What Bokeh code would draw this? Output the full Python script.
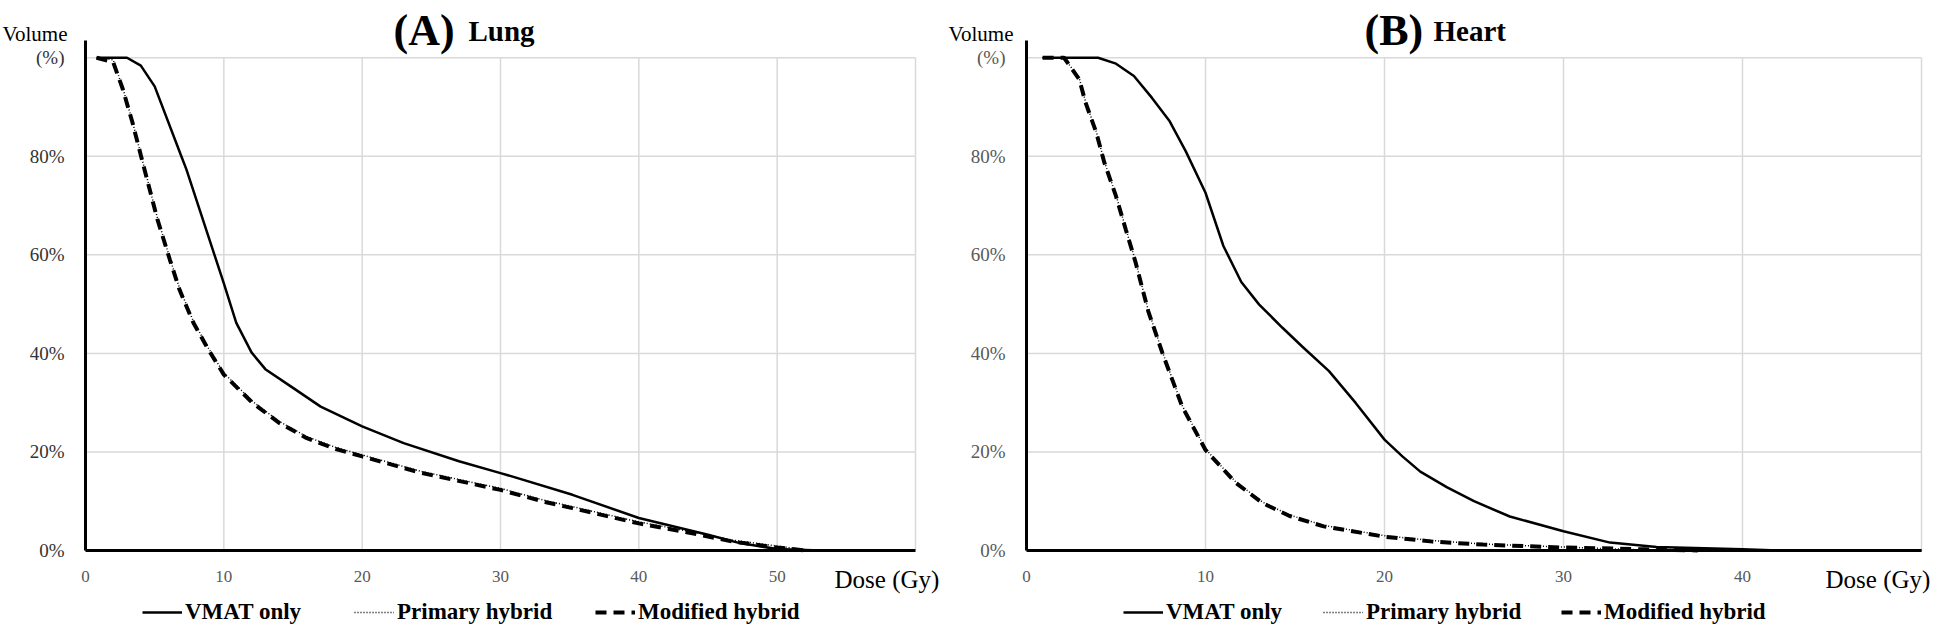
from bokeh.plotting import figure
from bokeh.models import Range1d, FixedTicker, Label, Legend, LegendItem
from bokeh.layouts import row
from bokeh.embed import file_html
from bokeh.resources import INLINE

# ---------------- data ----------------
# (A) Lung
lung_vmat_dose = [0.8, 3.0, 4.0, 5.0, 6.9, 7.3, 10.0, 10.9, 12.0, 13.0, 15.0, 17.0, 20.0, 23.0, 27.0, 30.0, 31.0, 35.2, 40.0, 45.0, 47.3, 50.0, 53.1]
lung_vmat_vol = [100, 100, 98.4, 94.2, 80.2, 77.3, 54.2, 46.2, 40.2, 36.8, 33.0, 29.2, 25.2, 21.8, 18.1, 15.7, 14.9, 11.3, 6.6, 3.2, 1.5, 0.3, 0]

lung_prim_dose = [0.8, 2.0, 2.7, 3.4, 4.0, 5.2, 6.1, 6.8, 7.8, 8.9, 10.0, 12.1, 14.0, 16.0, 18.1, 20.0, 24.2, 30.0, 33.3, 35.2, 40.0, 44.4, 46.8, 50.0, 52.5]
lung_prim_vol = [100, 99.6, 93.8, 87.0, 80.4, 67.5, 59.3, 53.2, 46.5, 41.0, 36.0, 30.2, 26.2, 23.1, 20.9, 19.4, 16.1, 12.6, 10.1, 8.9, 5.8, 3.5, 2.1, 0.9, 0]

lung_mod_dose = [0.8, 2.0, 2.7, 3.4, 4.0, 5.2, 6.1, 6.8, 7.8, 8.9, 10.0, 12.1, 14.0, 16.0, 18.1, 20.0, 24.2, 30.0, 33.3, 35.2, 40.0, 44.4, 46.8, 50.0, 52.1]
lung_mod_vol = [100, 99.1, 93.6, 86.8, 80.2, 67.2, 59.0, 52.9, 46.2, 40.7, 35.7, 29.9, 25.9, 22.8, 20.6, 19.1, 15.8, 12.3, 9.8, 8.6, 5.5, 3.2, 1.8, 0.6, 0]

# (B) Heart
heart_vmat_dose = [0.9, 4.0, 5.0, 6.0, 7.0, 8.0, 8.9, 10.0, 11.0, 12.0, 13.0, 14.3, 15.4, 16.9, 18.4, 20.0, 21.0, 22.0, 23.5, 25.0, 27.0, 30.0, 32.6, 35.2, 40.0, 42.0, 50.0]
heart_vmat_vol = [100, 100, 98.8, 96.3, 91.9, 87.1, 81.0, 72.6, 61.8, 54.5, 49.9, 45.2, 41.4, 36.4, 29.9, 22.5, 19.1, 16.0, 12.8, 10.0, 6.9, 3.9, 1.6, 0.7, 0.25, 0, 0]

heart_prim_dose = [0.9, 2.1, 2.95, 3.3, 3.9, 4.35, 5.0, 5.55, 6.1, 6.8, 7.6, 8.7, 10.0, 11.7, 13.2, 14.7, 16.6, 20.0, 22.7, 25.5, 30.0, 33.0, 35.5]
heart_prim_vol = [100, 100, 95.8, 91.1, 85.0, 78.9, 72.1, 65.3, 58.6, 48.8, 40.2, 29.4, 20.6, 13.9, 9.8, 7.2, 5.1, 3.0, 2.0, 1.3, 0.7, 0.3, 0]

heart_mod_dose = [0.9, 2.1, 2.95, 3.3, 3.9, 4.35, 5.0, 5.55, 6.1, 6.8, 7.6, 8.7, 10.0, 11.7, 13.2, 14.7, 16.6, 20.0, 22.7, 25.5, 30.0, 34.5, 37.5]
heart_mod_vol = [100, 100, 95.6, 90.9, 84.8, 78.7, 71.9, 65.1, 58.4, 48.6, 40.0, 29.2, 20.4, 13.7, 9.6, 7.0, 4.9, 2.8, 1.8, 1.2, 0.6, 0.25, 0]

y_ticks = [0, 20, 40, 60, 80, 100]
y_tick_labels = ["0%", "20%", "40%", "60%", "80%", "(%)"]
lung_x_ticks = [0, 10, 20, 30, 40, 50]
heart_x_ticks = [0, 10, 20, 30, 40]
lung_x_max = 60
heart_x_max = 50
series_names = ["VMAT only", "Primary hybrid", "Modified hybrid"]

SERIF = "Liberation Serif"
GRID = "#d9d9d9"
FIG_H = 626
AX_TOP = 103.5          # top of the y axis line (data)
PLOT_TOP_PX = 40        # px from canvas top to AX_TOP
PLOT_H_PX = 510         # px between AX_TOP and 0


def panel(width, left, frame_w, xmax, xticks, vmat, prim, mod,
          letter, organ, title_x, organ_x, vol_x, dose_x, leg_x, ylab_color):
    sx = frame_w / xmax
    sy = PLOT_H_PX / AX_TOP
    x0 = -left / sx
    x1 = (width - left) / sx
    y1 = AX_TOP + PLOT_TOP_PX / sy
    y0 = AX_TOP - (FIG_H - PLOT_TOP_PX) / sy

    p = figure(width=width, height=FIG_H, output_backend="svg", toolbar_location=None,
               x_range=Range1d(x0, x1), y_range=Range1d(y0, y1),
               min_border=0, min_border_left=0, min_border_right=0,
               min_border_top=0, min_border_bottom=0,
               background_fill_color="white", border_fill_color="white")
    p.outline_line_color = None
    p.xgrid.visible = False
    p.ygrid.visible = False

    # grid lines (bounded to the data area)
    gx = [t for t in range(10, xmax + 1, 10)]
    p.segment(x0=gx, x1=gx, y0=[0] * len(gx), y1=[100] * len(gx),
              line_color=GRID, line_width=1.5)
    gy = y_ticks[1:]
    p.segment(x0=[0] * len(gy), x1=[xmax] * len(gy), y0=gy, y1=gy,
              line_color=GRID, line_width=1.5)

    # axes crossing at the origin
    p.xaxis.fixed_location = 0
    p.yaxis.fixed_location = 0
    p.xaxis.bounds = (0, xmax)
    p.yaxis.bounds = (0, AX_TOP)
    p.yaxis.ticker = FixedTicker(ticks=y_ticks)
    p.yaxis.major_label_overrides = {t: s for t, s in zip(y_ticks, y_tick_labels)}
    p.xaxis.ticker = FixedTicker(ticks=xticks)
    for ax in (p.xaxis, p.yaxis):
        ax.axis_line_width = 3
        ax.axis_line_color = "black"
        ax.major_tick_line_color = None
        ax.minor_tick_line_color = None
        ax.major_label_text_font = SERIF
    p.yaxis.major_label_text_font_size = "19px"
    p.yaxis.major_label_text_color = ylab_color
    p.yaxis.major_label_standoff = 15
    p.xaxis.major_label_text_font_size = "17px"
    p.xaxis.major_label_text_color = "#595959"
    p.xaxis.major_label_standoff = 14

    r_mod = p.line(mod[0], mod[1], line_color="black", line_width=4, line_dash="11 7")
    r_prim = p.line(prim[0], prim[1], line_color="black", line_width=1.5, line_dash="1 2")
    r_vmat = p.line(vmat[0], vmat[1], line_color="black", line_width=2.5)

    for name, r, lx in zip(series_names, [r_vmat, r_prim, r_mod], leg_x):
        leg = Legend(items=[LegendItem(label=name, renderers=[r])], location=(lx, 1),
                     orientation="horizontal", padding=0, margin=0, spacing=0,
                     border_line_color=None, background_fill_alpha=0,
                     glyph_width=40, glyph_height=20, label_standoff=3,
                     label_text_font=SERIF, label_text_font_style="bold",
                     label_text_font_size="23px", label_text_color="black")
        p.add_layout(leg)

    # figure pixel offsets -> data (y measured from the top of the page)
    def dx(px_off):
        return x0 + px_off / sx

    def dy(py):
        return y1 - (py - 8) / sy

    p.add_layout(Label(x=dx(title_x), y=dy(38), text=letter, text_font=SERIF,
                       text_font_style="bold", text_font_size="44px", text_color="black",
                       text_baseline="alphabetic", text_align="left"))
    p.add_layout(Label(x=dx(organ_x), y=dy(38), text=organ, text_font=SERIF,
                       text_font_style="bold", text_font_size="29px", text_color="black",
                       text_baseline="alphabetic", text_align="left"))
    p.add_layout(Label(x=dx(vol_x), y=dy(41), text="Volume", text_font=SERIF,
                       text_font_size="21px", text_color="black",
                       text_baseline="middle", text_align="right"))
    p.add_layout(Label(x=dx(dose_x), y=dy(587), text="Dose (Gy)", text_font=SERIF,
                       text_font_size="25px", text_color="black",
                       text_baseline="middle", text_align="left"))
    return p


# A occupies page x 8..951, B page x 951..1938 (offsets below are within each figure)
pA = panel(943, 85, 830, lung_x_max, lung_x_ticks,
           (lung_vmat_dose, lung_vmat_vol), (lung_prim_dose, lung_prim_vol),
           (lung_mod_dose, lung_mod_vol),
           "(A)", "Lung", 393, 468, 67, 834, [142, 354, 595], "#333333")
pB = panel(987, 83, 895, heart_x_max, heart_x_ticks,
           (heart_vmat_dose, heart_vmat_vol), (heart_prim_dose, heart_prim_vol),
           (heart_mod_dose, heart_mod_vol),
           "(B)", "Heart", 421, 490, 70, 882, [180, 380, 618], "#595959")

layout = row(pA, pB, spacing=0)
open("out.html", "w").write(file_html(layout, INLINE))
